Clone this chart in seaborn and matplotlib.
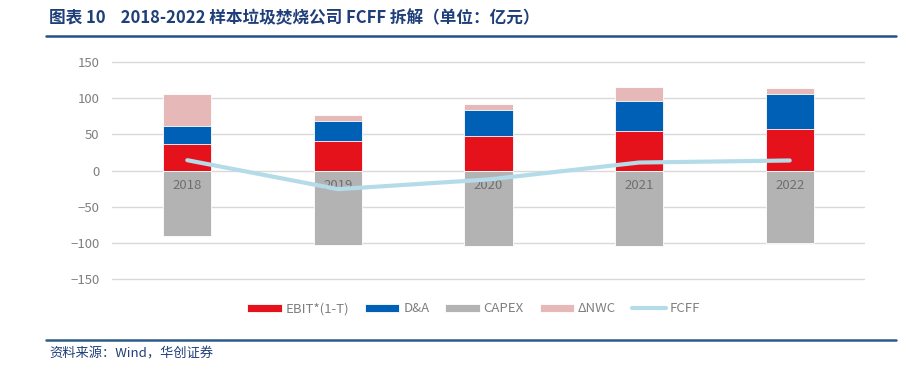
import numpy as np
import pandas as pd
import matplotlib
matplotlib.use("Agg")
import matplotlib.pyplot as plt
from matplotlib.lines import Line2D
import seaborn as sns

# data (亿元)
years = ["2018", "2019", "2020", "2021", "2022"]
ebit = [36.3, 40.4, 47.8, 54.2, 57.9]
da = [25.3, 28.0, 35.3, 42.3, 48.2]
capex = [90.5, 103.4, 104.7, 104.7, 100.1]
nwc = [43.6, 7.9, 8.3, 19.3, 7.8]
fcff = [14.2, -25.7, -12.4, 11.0, 13.8]

c_ebit = "#e5121c"
c_da = "#0060b5"
c_capex = "#b3b3b3"
c_nwc = "#e6b8b8"
c_fcff = "#b4dce8"

sns.set_style("white")
plt.rcParams["font.family"] = ["Noto Sans CJK SC", "DejaVu Sans"]

df = pd.DataFrame({"year": years, "ebit": ebit, "da": da, "capex": capex,
                   "nwc": nwc, "fcff": fcff})
df["lvl2"] = df["ebit"] + df["da"]
df["lvl3"] = df["lvl2"] + df["nwc"]
df["neg"] = -df["capex"]

fig = plt.figure(figsize=(9.06, 3.69), dpi=100)
ax = fig.add_axes([112 / 906, 1 - 280.75 / 369, 753 / 906, 220.5 / 369])

bar_kw = dict(width=0.32, saturation=1, edgecolor="white", linewidth=0.6, ax=ax)
# stacked positives: draw cumulative totals from the top down
sns.barplot(data=df, x="year", y="lvl3", color=c_nwc, label="\u0394NWC", **bar_kw)
sns.barplot(data=df, x="year", y="lvl2", color=c_da, label="D&A", **bar_kw)
sns.barplot(data=df, x="year", y="ebit", color=c_ebit, label="EBIT*(1-T)", **bar_kw)
sns.barplot(data=df, x="year", y="neg", color=c_capex, label="CAPEX", **bar_kw)
sns.lineplot(x=np.arange(len(years)), y=df["fcff"], color=c_fcff, lw=3,
             label="FCFF", ax=ax, zorder=5, solid_capstyle="round")

ax.set_ylim(-152, 152)
ax.set_xlim(-0.5, len(years) - 0.5)
ax.set_yticks(range(-150, 151, 50))
ax.set_xticks([])
ax.set_xlabel("")
ax.set_ylabel("")
ax.set_axisbelow(True)
ax.yaxis.grid(True, color="#d9d9d9", lw=1)
for s in ax.spines.values():
    s.set_visible(False)
ax.tick_params(axis="y", length=0, labelsize=9.5, labelcolor="#7f7f7f", pad=9)

# category labels sit just under the zero line, above bars but under the line
for i, yr in enumerate(years):
    ax.text(i, -21, yr, ha="center", va="center", fontsize=9.5, color="#6f6f6f", zorder=4)

handles, labels = ax.get_legend_handles_labels()
lookup = dict(zip(labels, handles))
order = ["EBIT*(1-T)", "D&A", "CAPEX", "\u0394NWC", "FCFF"]
ax.legend([lookup[k] for k in order], order, loc="center",
          bbox_to_anchor=(474 / 906, 1 - 309 / 369), bbox_transform=fig.transFigure,
          ncol=5, frameon=False, fontsize=9.5, handlelength=2.6, handleheight=0.5,
          columnspacing=1.2, handletextpad=0.3, labelcolor="#7f7f7f")

navy = "#1f3f7a"
fig.text(49 / 906, 1 - 18 / 369,
         "图表 10    2018-2022 样本垃圾焚烧公司 FCFF 拆解（单位：亿元）",
         fontsize=12, fontweight="bold", color=navy, va="center", ha="left")
fig.add_artist(Line2D([46 / 906, 896 / 906], [1 - 36 / 369] * 2,
                      transform=fig.transFigure, color="#24508f", lw=1.8))
fig.add_artist(Line2D([46 / 906, 896 / 906], [1 - 340 / 369] * 2,
                      transform=fig.transFigure, color="#2e5c8a", lw=1.8))
fig.text(49 / 906, 1 - 354 / 369, "资料来源：Wind，华创证券", fontsize=9.5,
         style="italic", color=navy, va="center", ha="left")

fig.savefig("out.png", dpi=100)
